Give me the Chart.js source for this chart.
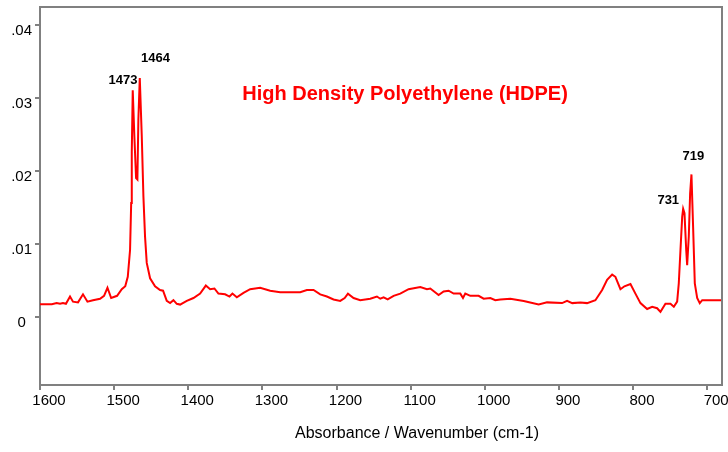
<!DOCTYPE html>
<html>
<head>
<meta charset="utf-8">
<script src="https://cdn.jsdelivr.net/npm/chart.js@4/dist/chart.umd.min.js"></script>
<style>
html,body{margin:0;padding:0;background:#fff;}
canvas{display:block;}
</style>
</head>
<body>
<canvas id="c" width="728" height="452"></canvas>
<script>
const wavenumber = [1600,1593,1584,1577.5,1573,1569,1565,1559.5,1555.5,1548.7,1542,1536,1528.5,1519,1513.6,1509,1504,1496,1489.7,1485,1481.6,1478.5,1477,1476.2,1474.9,1472.7,1470.4,1468.6,1467.3,1465.4,1462.7,1460.5,1458.3,1456,1451.5,1444.8,1438,1434,1429,1424.5,1420,1415.5,1411,1402,1393,1384,1376.3,1370.5,1364.7,1359.3,1350.3,1344.4,1340.4,1334.5,1325.5,1316.5,1303,1289.5,1276,1262.5,1249,1240,1231,1222,1213,1204,1195,1189,1184.6,1177,1168,1154.5,1145.5,1141,1136.5,1131,1123,1114,1102.8,1087,1078,1073.5,1062.3,1055.5,1048.8,1042,1033,1029.4,1026.3,1019.5,1008.3,1001.5,992.5,985.8,979,965.5,947.5,927.3,916,895.7,889,882,871,862,850.8,841.7,835,828.2,823.8,817,811.6,803.5,796.8,790,781,774.2,767.5,763,756.3,749.5,745,740.5,738.3,736,733.7,732.4,730.6,728.3,727,724.8,723,721.2,719,716.7,713.5,710,706.7,695.5,680];
const absorbance = [0.00175,0.00175,0.00175,0.0019,0.0018,0.0019,0.0018,0.0028,0.0021,0.0020,0.0031,0.0021,0.0023,0.0025,0.0029,0.0040,0.0026,0.0029,0.0038,0.0042,0.0055,0.0092,0.0156,0.0225,0.0310,0.0247,0.0190,0.0188,0.0270,0.0327,0.0247,0.0165,0.0110,0.0074,0.0053,0.0042,0.0037,0.0036,0.0022,0.0019,0.0023,0.0018,0.0017,0.0022,0.0026,0.0032,0.0043,0.0038,0.0039,0.0032,0.0031,0.0028,0.0032,0.0027,0.0033,0.0038,0.0040,0.0036,0.0034,0.0034,0.0034,0.0037,0.0037,0.0031,0.0028,0.0024,0.0022,0.0026,0.0032,0.0026,0.0023,0.0025,0.0028,0.0025,0.0027,0.0024,0.0029,0.0032,0.0038,0.0041,0.0038,0.0039,0.0030,0.0035,0.0036,0.0032,0.0032,0.0026,0.0032,0.0029,0.0029,0.0025,0.0026,0.0023,0.0024,0.0025,0.0022,0.0017,0.0020,0.0019,0.0022,0.0019,0.0020,0.0019,0.0023,0.0037,0.0051,0.0058,0.0055,0.0038,0.0042,0.0045,0.0032,0.0019,0.0011,0.0014,0.0012,0.0007,0.0018,0.0018,0.0014,0.0021,0.0046,0.0092,0.0137,0.0148,0.0142,0.0092,0.0071,0.0110,0.0169,0.0195,0.0124,0.0046,0.0026,0.0019,0.0023,0.0023,0.0023];

const xTicks = [1600,1500,1400,1300,1200,1100,1000,900,800,700];
const xTickLabels = ['1600','1500','1400','1300','1200','1100','1000','900','800','700'];
const yTicks = [0,0.01,0.02,0.03,0.04];
const yTickLabels = ['0','.01','.02','.03','.04'];
const xRange = [680,1600];
const yRange = [-0.0093,0.0424];

const peakLabels = ['1473','1464','731','719'];
const peakLabelX = [1488,1444.3,752.5,718.7];
const peakLabelY = [0.0324,0.0354,0.0159,0.0219];

const chartTitle = 'High Density Polyethylene (HDPE)';
const xAxisTitle = 'Absorbance / Wavenumber (cm-1)';

const FONT = '"Liberation Sans", Arial, Helvetica, sans-serif';
const AXIS = '#808080';

const framePlugin = {
  id: 'frame',
  afterDatasetsDraw(chart) {
    const {ctx, chartArea: a} = chart;
    ctx.save();
    ctx.strokeStyle = AXIS;
    ctx.lineWidth = 2;
    ctx.beginPath();
    ctx.moveTo(a.left - 1, a.top);
    ctx.lineTo(a.right, a.top);
    ctx.lineTo(a.right, a.bottom + 1);
    ctx.stroke();
    ctx.restore();
  }
};

const textPlugin = {
  id: 'texts',
  afterDraw(chart) {
    const {ctx, scales: {x, y}} = chart;
    ctx.save();
    ctx.textAlign = 'center';
    ctx.textBaseline = 'middle';
    ctx.fillStyle = '#000';
    ctx.font = 'bold 13px ' + FONT;
    peakLabels.forEach((t, i) => {
      ctx.fillText(t, x.getPixelForValue(peakLabelX[i]), y.getPixelForValue(peakLabelY[i]));
    });
    ctx.fillStyle = '#ff0000';
    ctx.font = 'bold 20px ' + FONT;
    ctx.textBaseline = 'alphabetic';
    ctx.fillText(chartTitle, 405, 100);
    ctx.fillStyle = '#000';
    ctx.font = '16px ' + FONT;
    ctx.fillText(xAxisTitle, 417, 438);
    ctx.restore();
  }
};

new Chart(document.getElementById('c'), {
  type: 'line',
  data: {
    datasets: [{
      data: wavenumber.map((w, i) => ({x: w, y: absorbance[i]})),
      borderColor: '#ff0000',
      borderWidth: 2,
      pointRadius: 0,
      tension: 0,
      fill: false
    }]
  },
  options: {
    responsive: false,
    animation: false,
    layout: {padding: {top: 7, right: 6, left: 0, bottom: 0}},
    plugins: {legend: {display: false}, tooltip: {enabled: false}, title: {display: false}},
    scales: {
      x: {
        type: 'linear',
        reverse: true,
        min: xRange[0],
        max: xRange[1],
        afterBuildTicks: s => { s.ticks = xTicks.map(v => ({value: v})); },
        afterFit: s => { s.height = 67; s.paddingLeft = 0; s.paddingRight = 0; },
        grid: {display: true, drawOnChartArea: false, drawTicks: true, tickLength: 5, color: AXIS, lineWidth: 2},
        border: {display: true, color: AXIS, width: 2},
        ticks: {
          font: {family: FONT, size: 15},
          color: '#000',
          padding: 2,
          labelOffset: 9,
          maxRotation: 0,
          autoSkip: false,
          callback: (v, i) => xTickLabels[i]
        }
      },
      y: {
        type: 'linear',
        min: yRange[0],
        max: yRange[1],
        afterBuildTicks: s => { s.ticks = yTicks.map(v => ({value: v})); },
        afterFit: s => { s.width = 40; s.paddingTop = 0; s.paddingBottom = 0; },
        grid: {display: true, drawOnChartArea: false, drawTicks: true, tickLength: 5, color: AXIS, lineWidth: 2},
        border: {display: true, color: AXIS, width: 2},
        ticks: {
          font: {family: FONT, size: 15},
          color: '#000',
          padding: 3,
          crossAlign: 'center',
          labelOffset: 6,
          autoSkip: false,
          callback: (v, i) => yTickLabels[i]
        }
      }
    }
  },
  plugins: [framePlugin, textPlugin]
});
</script>
</body>
</html>
